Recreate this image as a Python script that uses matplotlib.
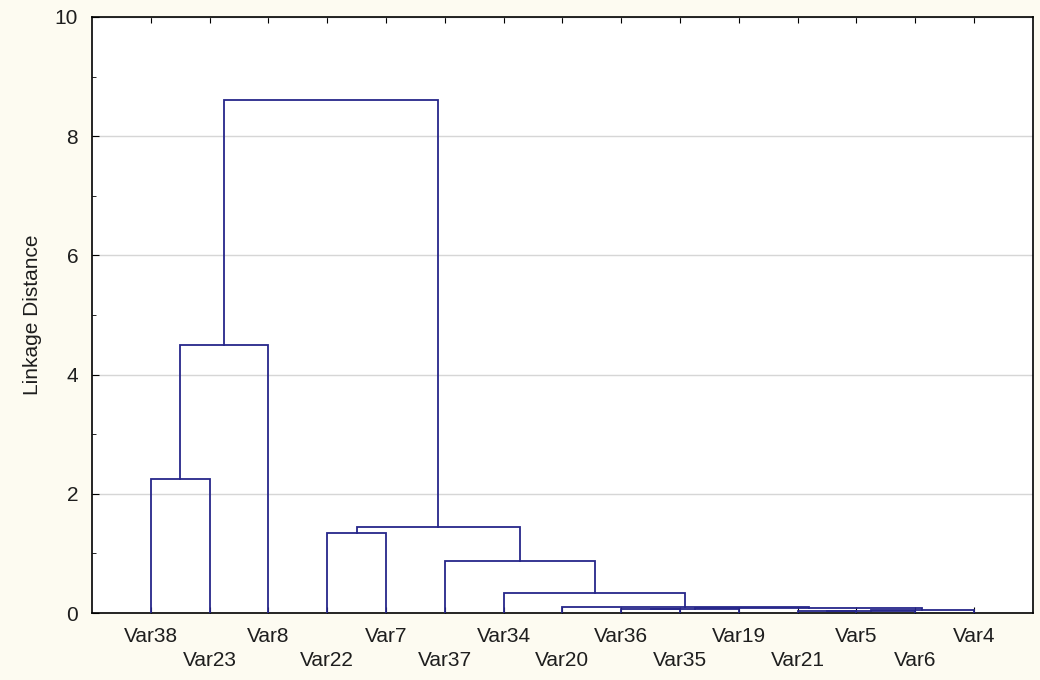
import matplotlib
matplotlib.use('Agg')
import matplotlib.pyplot as plt
from matplotlib.ticker import MultipleLocator

plt.rcParams['font.family'] = ['Liberation Sans', 'DejaVu Sans']

# leaves in display order
leaves = ['Var38', 'Var23', 'Var8', 'Var22', 'Var7', 'Var37', 'Var34', 'Var20',
          'Var36', 'Var35', 'Var19', 'Var21', 'Var5', 'Var6', 'Var4']

# merges: ids < 15 are leaves, id 15+k is merge k
merge_left = [11, 15, 16, 8, 18, 19, 7, 6, 5, 3, 24, 0, 26, 27]
merge_right = [12, 13, 14, 9, 10, 17, 20, 21, 22, 4, 23, 1, 2, 25]
merge_height = [0.03, 0.04, 0.05, 0.06, 0.07, 0.08, 0.10, 0.33, 0.88,
                1.35, 1.45, 2.25, 4.5, 8.6]

n = len(leaves)
xpos = {i: i + 1 for i in range(n)}
hpos = {i: 0.0 for i in range(n)}

fig = plt.figure(figsize=(10.4, 6.8), dpi=100, facecolor='#fdfbf1')
ax = fig.add_axes([0.0885, 0.0985, 0.9045, 0.8765])
ax.set_facecolor('white')

line_color = '#26268a'
for k, (a, b, h) in enumerate(zip(merge_left, merge_right, merge_height)):
    xa, xb = xpos[a], xpos[b]
    ax.plot([xa, xa, xb, xb], [hpos[a], h, h, hpos[b]],
            color=line_color, lw=1.3, solid_joinstyle='miter', zorder=3)
    xpos[n + k] = (xa + xb) / 2
    hpos[n + k] = h

ax.set_xlim(0, n + 1)
ax.set_ylim(0, 10)

ax.yaxis.set_major_locator(MultipleLocator(2))
ax.yaxis.set_minor_locator(MultipleLocator(1))
ax.grid(axis='y', which='major', color='#d6d6d6', lw=1, zorder=0)
ax.set_axisbelow(True)

ax.set_xticks(range(1, n + 1))
ax.set_xticklabels([lab if i % 2 == 0 else '\n' + lab for i, lab in enumerate(leaves)],
                   fontsize=15, color='#1e1e1e', linespacing=1.35)
ax.tick_params(axis='x', direction='in', top=True, length=4, pad=10)
ax.tick_params(axis='y', which='major', direction='in', right=False, length=5,
               pad=10, labelsize=15, labelcolor='#1e1e1e')
ax.tick_params(axis='y', which='minor', direction='in', length=3)

for s in ax.spines.values():
    s.set_linewidth(1.2)
    s.set_color('black')

ax.set_ylabel('Linkage Distance', fontsize=15, color='#1e1e1e', labelpad=9)

fig.savefig('out.png', dpi=100, facecolor=fig.get_facecolor())
